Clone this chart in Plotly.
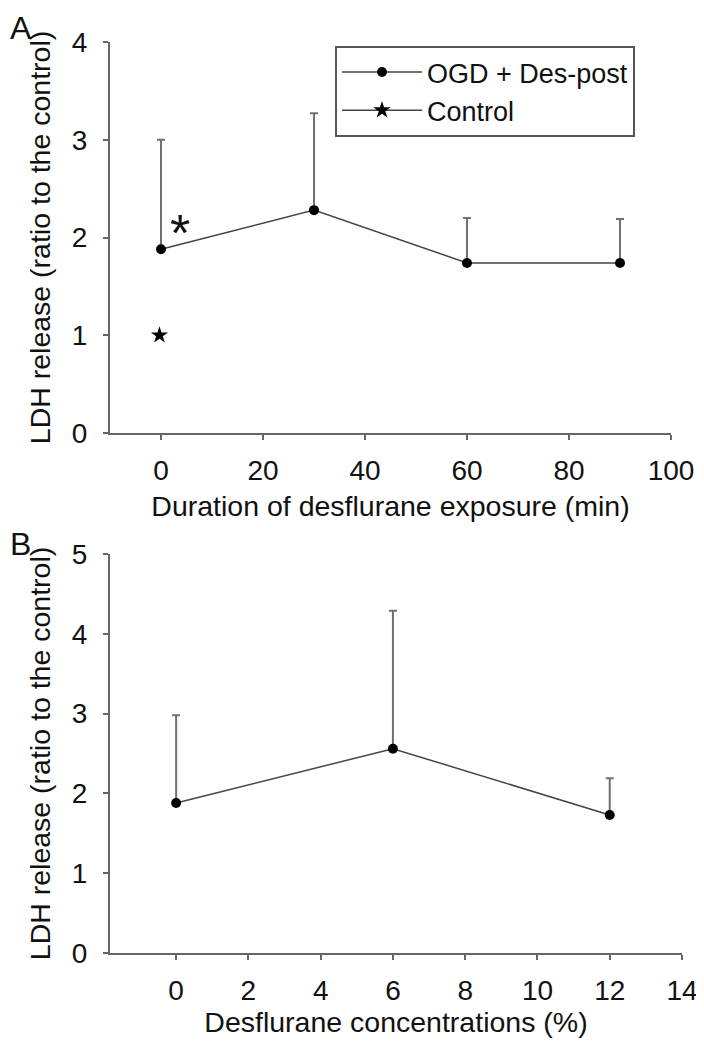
import plotly.graph_objects as go

# Panel A data
dur_x = [0, 30, 60, 90]
dur_y = [1.88, 2.28, 1.74, 1.74]
dur_err = [1.12, 0.99, 0.46, 0.45]
ctrl_x = [-0.3]
ctrl_y = [1.0]
sig_x = [3.7]
sig_y = [2.15]

# Panel B data
conc_x = [0, 6, 12]
conc_y = [1.88, 2.56, 1.73]
conc_err = [1.10, 1.73, 0.46]

xa_ticks = [0, 20, 40, 60, 80, 100]
xb_ticks = [0, 2, 4, 6, 8, 10, 12, 14]
ya_ticks = [0, 1, 2, 3, 4]
yb_ticks = [0, 1, 2, 3, 4, 5]

FONT = "Liberation Sans, Arial, sans-serif"
TXT = "#111111"
AX = "#666666"
FS = 28
TFS = 28.5

# page body has an 8px margin; figure sized so the page fits the window
OFF = 8
W, H = 704 - OFF, 1050 - OFF


def fx(p):
    return (p - OFF) / W


def fy(p):
    return 1 - (p - OFF) / H


fig = go.Figure()

fig.add_trace(go.Scatter(
    x=dur_x, y=dur_y, mode="lines+markers", name="OGD + Des-post",
    line=dict(color="#444444", width=1.5),
    marker=dict(color="black", size=10, symbol="circle"),
    error_y=dict(type="data", array=dur_err, arrayminus=[0]*len(dur_err), symmetric=False,
                 color="#707070", thickness=2, width=4),
    xaxis="x", yaxis="y"))
fig.add_trace(go.Scatter(
    x=ctrl_x, y=ctrl_y, mode="lines+markers", name="Control",
    line=dict(color="#444444", width=1.5),
    marker=dict(color="black", size=13, symbol="star"),
    xaxis="x", yaxis="y"))
fig.add_trace(go.Scatter(
    x=conc_x, y=conc_y, mode="lines+markers", name="OGD + Des-post", showlegend=False,
    line=dict(color="#444444", width=1.5),
    marker=dict(color="black", size=10, symbol="circle"),
    error_y=dict(type="data", array=conc_err, arrayminus=[0]*len(conc_err), symmetric=False,
                 color="#707070", thickness=2, width=4),
    xaxis="x2", yaxis="y2"))

axis_common = dict(showline=True, linecolor=AX, linewidth=2, ticks="outside", ticklen=5,
                   tickcolor=AX, tickwidth=1.5, showgrid=False, zeroline=False,
                   tickfont=dict(family=FONT, size=FS, color=TXT), automargin=False)

ytitle = "LDH release (ratio to the control)"

fig.update_layout(
    width=W, height=H,
    paper_bgcolor="white", plot_bgcolor="white",
    margin=dict(l=0, r=0, t=0, b=0),
    font=dict(family=FONT, size=FS, color=TXT),
    xaxis=dict(domain=[fx(110), fx(671)], range=[-10, 100], tickvals=xa_ticks, anchor="y",
               ticklabelstandoff=6,
               title=dict(text="Duration of desflurane exposure (min)", font=dict(size=TFS), standoff=11),
               **axis_common),
    yaxis=dict(domain=[fy(433), fy(42)], range=[0, 4], tickvals=ya_ticks, anchor="x",
               ticklabelstandoff=10,
               title=dict(text=ytitle, font=dict(size=TFS), standoff=13),
               **axis_common),
    xaxis2=dict(domain=[fx(110), fx(682)], range=[-1.83, 14], tickvals=xb_ticks, anchor="y2",
                ticklabelstandoff=6,
                title=dict(text="Desflurane concentrations (%)", font=dict(size=TFS), standoff=0),
                **axis_common),
    yaxis2=dict(domain=[fy(953), fy(554)], range=[0, 5], tickvals=yb_ticks, anchor="x2",
                ticklabelstandoff=10,
                title=dict(text=ytitle, font=dict(size=TFS), standoff=13),
                **axis_common),
    legend=dict(x=fx(335), y=fy(46), xanchor="left", yanchor="top",
                bordercolor="#555555", borderwidth=2, bgcolor="white",
                font=dict(family=FONT, size=27, color=TXT), itemwidth=80,
                tracegroupgap=0),
    showlegend=True,
)

fig.add_annotation(x=sig_x[0], y=sig_y[0], xref="x", yref="y", text="*", showarrow=False,
                   font=dict(family=FONT, size=52, color=TXT), yshift=-10)
fig.add_annotation(x=fx(21), y=1, xref="paper", yref="paper", text="A", showarrow=False,
                   xanchor="center", yanchor="top",
                   font=dict(family=FONT, size=32, color=TXT))
fig.add_annotation(x=fx(20), y=fy(564), xref="paper", yref="paper", text="B", showarrow=False,
                   xanchor="center", yanchor="bottom",
                   font=dict(family=FONT, size=32, color=TXT))

fig.write_html("out.html")
